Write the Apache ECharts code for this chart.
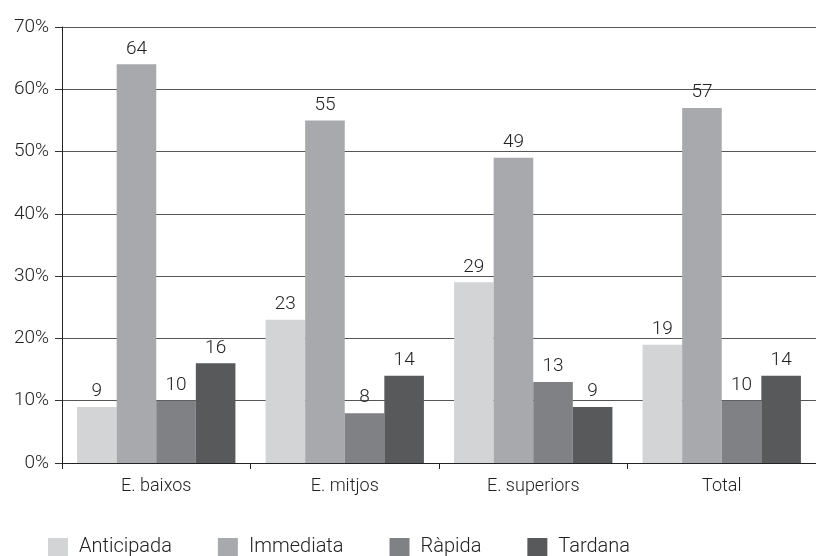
<!DOCTYPE html>
<html>
<head>
<meta charset="utf-8">
<script src="https://cdn.jsdelivr.net/npm/echarts@6/dist/echarts.min.js"></script>
<style>
  html, body { margin: 0; padding: 0; background: #fff; }
  #chart { width: 816px; height: 556px; }
</style>
</head>
<body>
<div id="chart"></div>
<script>
const categories = ['E. baixos', 'E. mitjos', 'E. superiors', 'Total']
const anticipada = [9, 23, 29, 19]
const immediata = [64, 55, 49, 57]
const rapida = [10, 8, 13, 10]
const tardana = [16, 14, 9, 14]
const yTicks = [0, 10, 20, 30, 40, 50, 60, 70]

const font = 'Roboto'
const chart = echarts.init(document.querySelector('#chart'))

// one series per response type, bars touching inside a group
const makeSeries = (name, data, color) => ({
    name,
    type: 'bar',
    data,
    barGap: '0%',
    barCategoryGap: '16%',
    itemStyle: { color },
    label: {
        show: true,
        position: 'top',
        distance: 6,
        color: '#222',
        fontFamily: font,
        fontWeight: 300,
        fontSize: 19
    }
})

const option = {
    animation: false,
    textStyle: { fontFamily: font },
    grid: { left: 62, right: 0, top: 27, bottom: 93 },
    legend: {
        top: 532,
        left: 43,
        itemWidth: 20,
        itemHeight: 18,
        itemGap: 46,
        icon: 'rect',
        textStyle: { fontSize: 20, color: '#222', fontFamily: font, fontWeight: 300, padding: [0, 0, 0, 6] },
        data: ['Anticipada', 'Immediata', 'Ràpida', 'Tardana']
    },
    xAxis: {
        type: 'category',
        data: categories,
        axisLine: { lineStyle: { color: '#222', width: 1 } },
        axisTick: { show: true, alignWithLabel: false, length: 6, lineStyle: { color: '#222' } },
        axisLabel: { fontSize: 18, color: '#222', fontFamily: font, fontWeight: 300, margin: 14 }
    },
    yAxis: {
        type: 'value',
        min: yTicks[0],
        max: yTicks[yTicks.length - 1],
        interval: 10,
        axisLine: { show: true, lineStyle: { color: '#222', width: 1 } },
        axisTick: { show: true, length: 7, lineStyle: { color: '#333' } },
        splitLine: { lineStyle: { color: '#555', width: 1 } },
        axisLabel: { formatter: '{value}%', fontSize: 19, color: '#222', fontFamily: font, fontWeight: 300, margin: 13 }
    },
    series: [
        makeSeries('Anticipada', anticipada, '#d3d4d6'),
        makeSeries('Immediata', immediata, '#a8a9ac'),
        makeSeries('Ràpida', rapida, '#808184'),
        makeSeries('Tardana', tardana, '#58595b')
    ]
}
chart.setOption(option)
</script>
</body>
</html>
